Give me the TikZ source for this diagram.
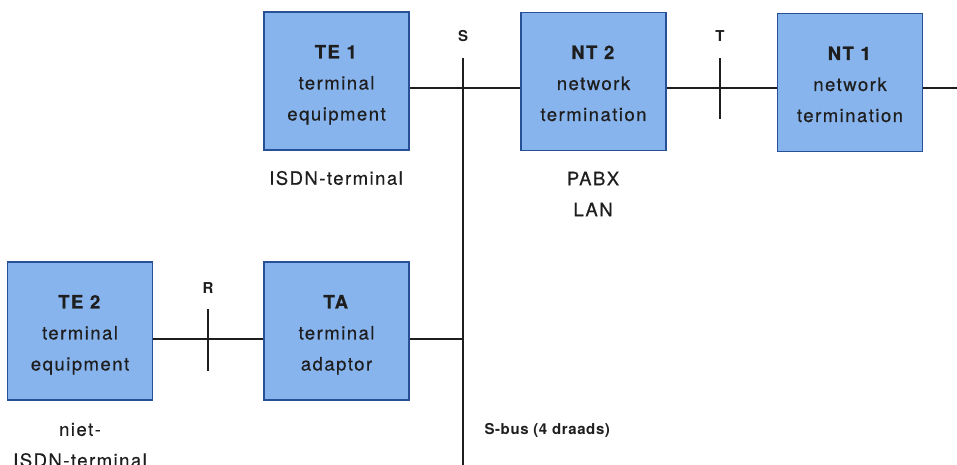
\documentclass[tikz,border=0pt]{standalone}
\usepackage{fontspec}
\setmainfont{TeX Gyre Heros}[LetterSpace=8, FakeBold=0.5]
\newfontfamily\lblfont{TeX Gyre Heros}[LetterSpace=4]
\definecolor{boxfill}{RGB}{136,180,238}
\definecolor{boxline}{RGB}{40,80,150}
\definecolor{ink}{RGB}{30,30,30}
\newcommand{\unittext}[3]{\raisebox{-6.6pt}[0pt][0pt]{\begin{tabular}{@{}c@{}}\textbf{#1}\\#2\\#3\end{tabular}}}
\begin{document}
\begin{tikzpicture}[x=1pt,y=-1pt,
  unit/.style={draw=boxline, line width=1.3pt, fill=boxfill, minimum width=145pt, minimum height=138pt,
    inner sep=0pt, align=center, text=ink, font=\fontsize{18.5}{31}\selectfont},
  wire/.style={draw=ink, line width=2.8pt},
  iface/.style={text=ink, font=\lblfont\bfseries\fontsize{15}{16}\selectfont},
  note/.style={text=ink, align=center, font=\fontsize{18.5}{31}\selectfont}]
\useasboundingbox (0,0) rectangle (957,464);
\node[unit] (te1) at (336.5,81) {\unittext{TE 1}{terminal}{equipment}};
\node[unit] (nt2) at (593.5,81.5) {\unittext{NT 2}{network}{termination}};
\node[unit] (nt1) at (850,82.5) {\unittext{NT 1}{network}{termination}};
\node[unit] (te2) at (80,331) {\unittext{TE 2}{terminal}{equipment}};
\node[unit] (ta) at (336.5,331) {\unittext{TA}{terminal}{adaptor}};
% coordinates
\coordinate (top) at (463,88);
\coordinate (bot) at (463,339);
\coordinate (bustop) at (463,58);
\coordinate (busend) at (463,466);
\coordinate (net) at (958,88);
\coordinate (ttop) at (720,58);
\coordinate (tbot) at (720,119);
\coordinate (rtop) at (208,309);
\coordinate (rbot) at (208,371);
% wires
\draw[wire] (te1.east |- top) -- (nt2.west |- top);
\draw[wire] (nt2.east |- top) -- (nt1.west |- top);
\draw[wire] (nt1.east |- top) -- (net);
\draw[wire] (te2.east |- bot) -- (ta.west |- bot);
\draw[wire] (ta.east |- bot) -- (bot);
\draw[wire] (bustop) -- (busend);
\draw[wire] (ttop) -- (tbot);
\draw[wire] (rtop) -- (rbot);
% interface labels
\node[iface] (s) at (463,36) {S};
\node[iface] (t) at (720,36) {T};
\node[iface] (r) at (208,288) {R};
\node[iface, anchor=west] (sbus) at (481,430) {S-bus (4 draads)};
% notes
\node[note] (isdn) at (336,178) {ISDN-terminal};
\node[note] (pabx) at (593,194) {PABX\\LAN};
\node[note] (niet) at (80,445) {niet-\\ISDN-terminal};
\end{tikzpicture}
\end{document}
